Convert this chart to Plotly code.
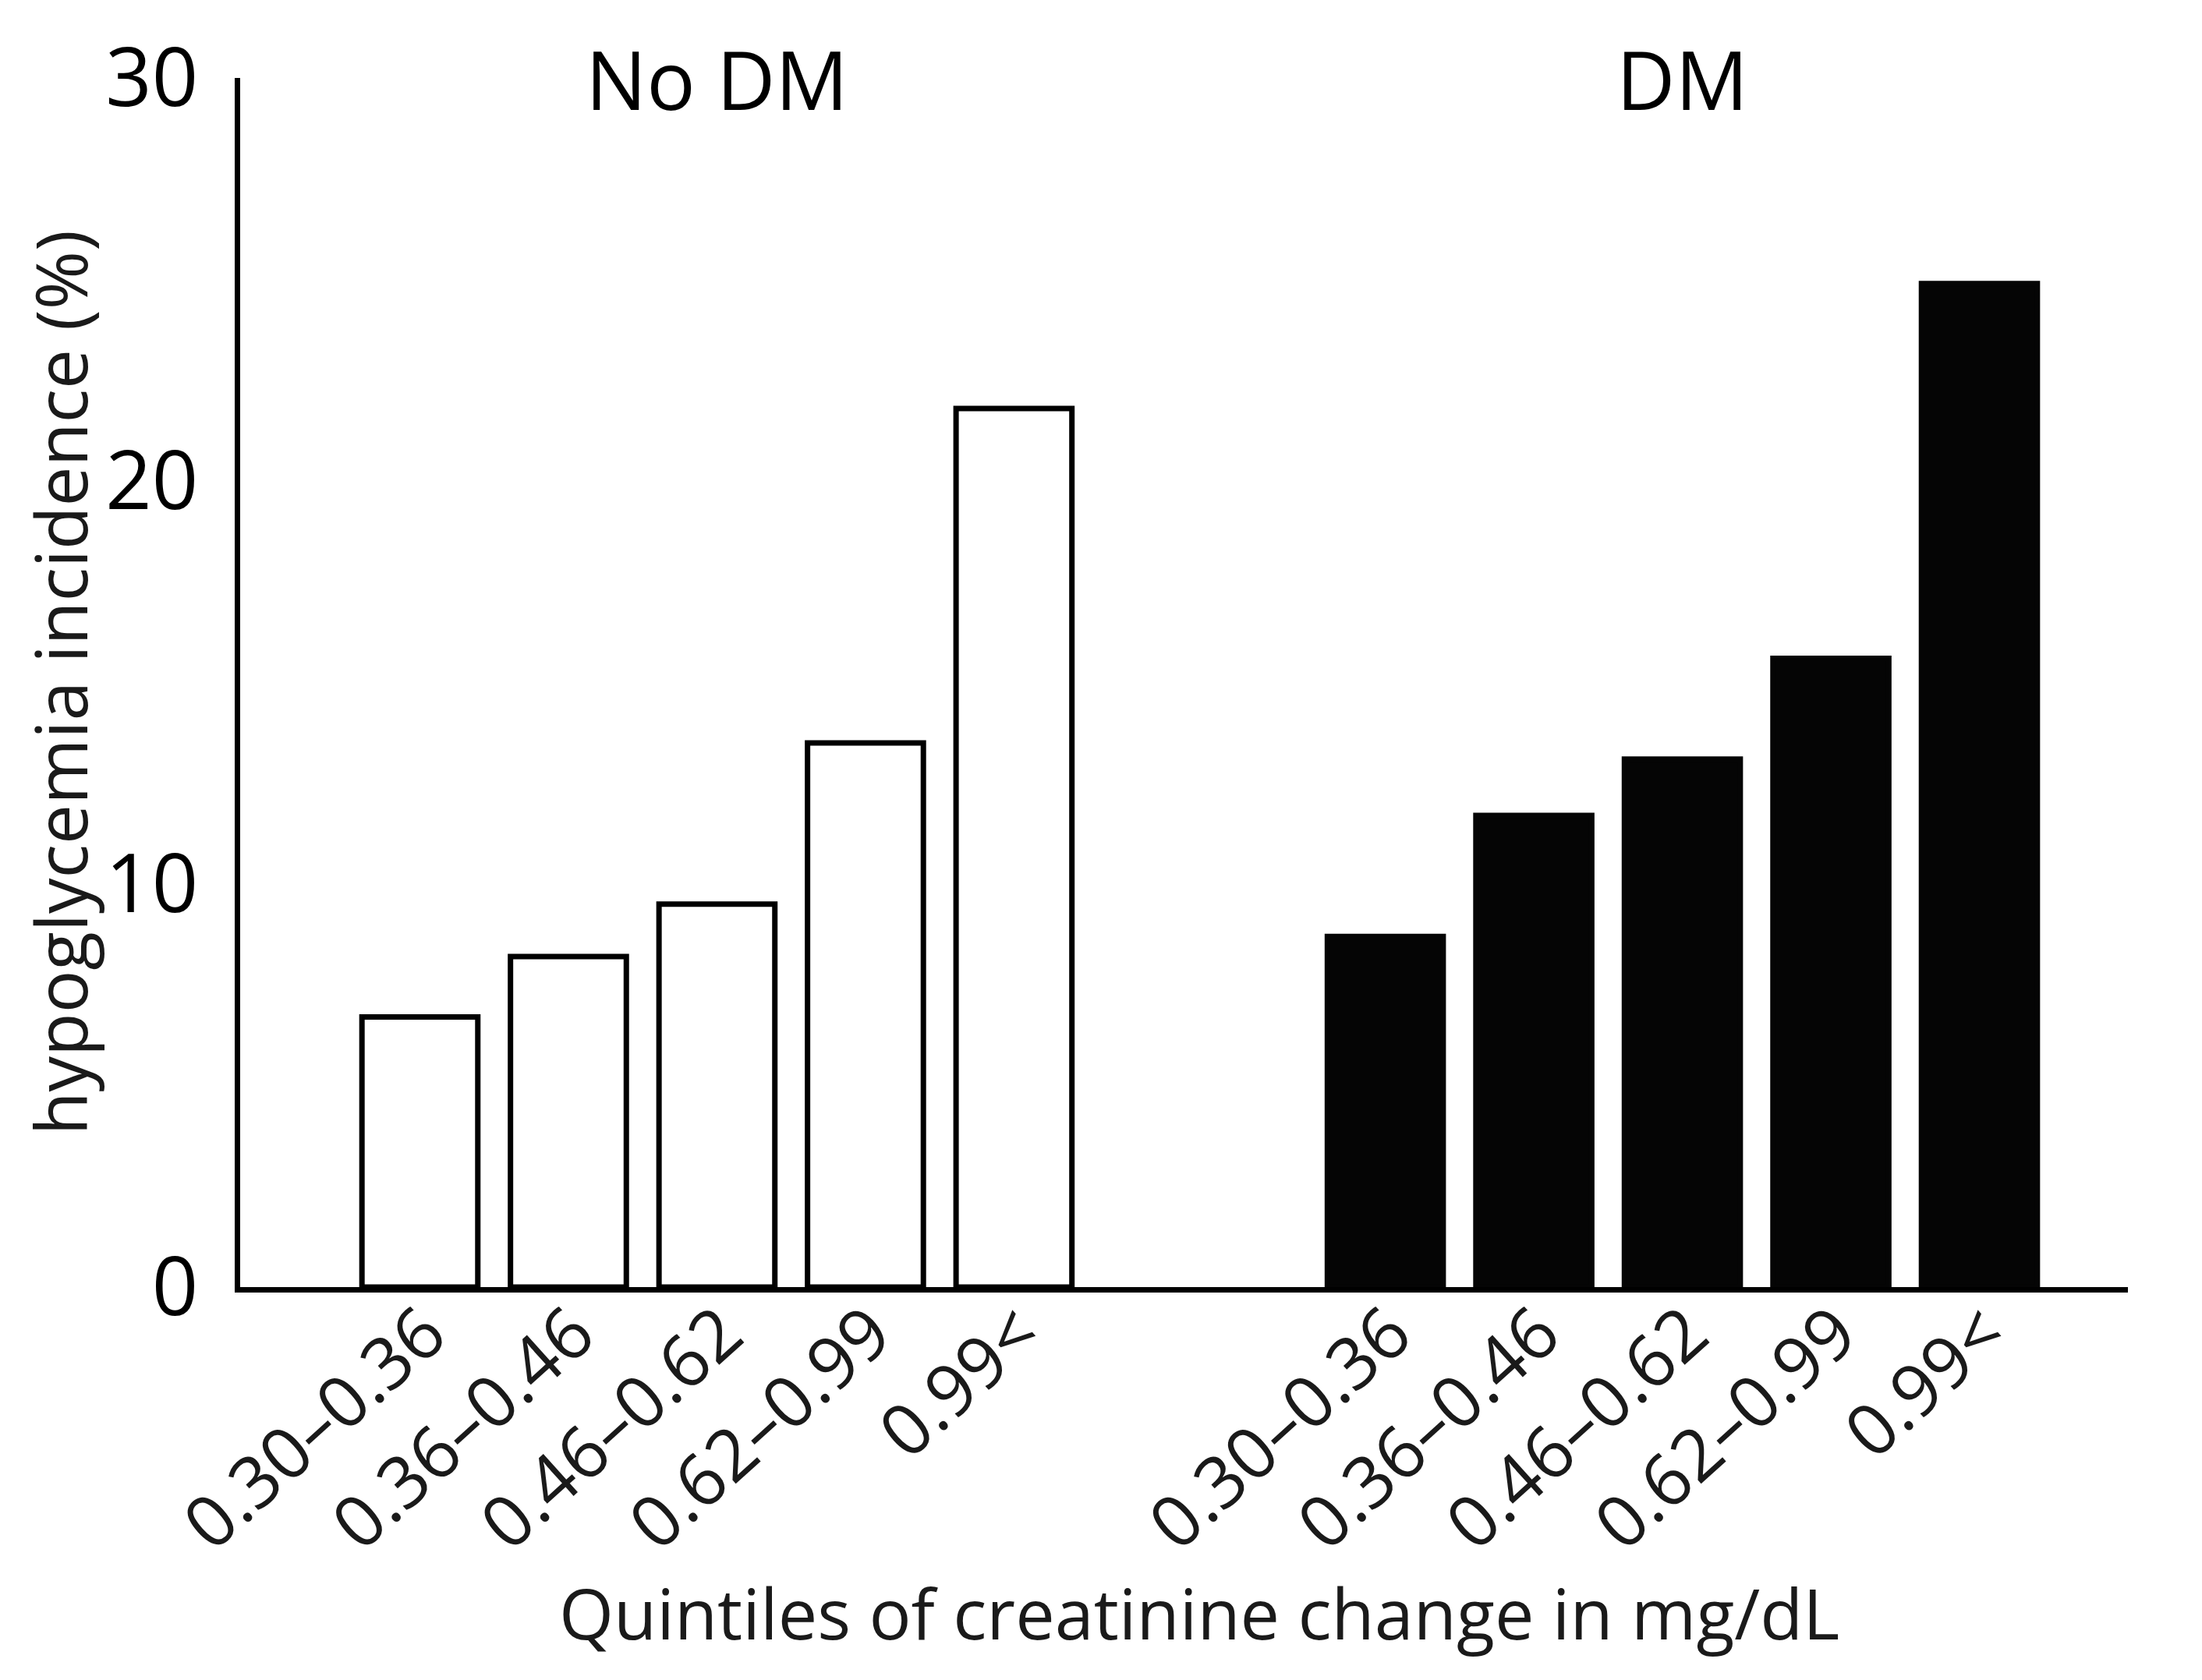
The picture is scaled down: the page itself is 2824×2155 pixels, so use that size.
import plotly.graph_objects as go

# ---- data ----
quintiles = ["0.30–0.36", "0.36–0.46", "0.46–0.62", "0.62–0.99", "0.99<"]
no_dm = [6.7, 8.2, 9.5, 13.5, 21.8]
dm = [8.7, 11.7, 13.1, 15.6, 24.9]
groups = ["No DM", "DM"]
y_ticks = [0, 10, 20, 30]

# ---- layout helpers ----
GROUP_OFFSET = 6.5  # slot offset of the DM group
x_nodm = [i for i in range(len(quintiles))]
x_dm = [i + GROUP_OFFSET for i in range(len(quintiles))]

W, H = 2824, 2155
ml, mr, mt, mb = 300, 103, 92, 512
FONT = "Open Sans"

fig = go.Figure()
fig.add_trace(go.Bar(
    x=x_nodm, y=no_dm, width=0.78, name=groups[0],
    marker=dict(color="white", line=dict(color="black", width=7)),
))
fig.add_trace(go.Bar(
    x=x_dm, y=dm, width=0.78, name=groups[1],
    marker=dict(color="#050505", line=dict(color="#050505", width=7)),
))

fig.update_layout(
    width=W, height=H,
    margin=dict(l=ml, r=mr, t=mt, b=mb, autoexpand=False),
    paper_bgcolor="white", plot_bgcolor="white",
    showlegend=False,
    font=dict(family=FONT, color="black", size=90),
    xaxis=dict(
        type="linear", range=[-1.21, 11.5],
        tickmode="array", tickvals=x_nodm + x_dm, ticktext=quintiles + quintiles,
        tickangle=-42, ticks="", showgrid=False, zeroline=False,
        showline=True, linecolor="black", linewidth=7,
        tickfont=dict(family=FONT, size=92, color="#1a1a1a"),
        ticklabelstandoff=-38, ticklabelshift=8,
    ),
    yaxis=dict(
        range=[0, 30], tickmode="array", tickvals=y_ticks,
        ticks="", showgrid=False, zeroline=False,
        showline=True, linecolor="black", linewidth=7,
        tickfont=dict(family=FONT, size=104, color="black"),
        ticklabelstandoff=26,
    ),
)

# group labels
for g, xs in zip(groups, [x_nodm, x_dm]):
    fig.add_annotation(x=sum(xs) / len(xs), y=30, xref="x", yref="y",
                       text=g, showarrow=False, yanchor="middle",
                       font=dict(family=FONT, size=104, color="black"))

# axis titles
fig.add_annotation(x=-0.0955, y=0.5, xref="paper", yref="paper",
                   text="hypoglycemia incidence (%)", textangle=-90,
                   showarrow=False, xanchor="center", yanchor="middle",
                   font=dict(family=FONT, size=91, color="#1a1a1a"))
fig.add_annotation(x=0.508, y=-0.269, xref="paper", yref="paper",
                   text="Quintiles of creatinine change in mg/dL",
                   showarrow=False, xanchor="center", yanchor="middle",
                   font=dict(family=FONT, size=90, color="#1a1a1a"))

fig.write_html("out.html")
